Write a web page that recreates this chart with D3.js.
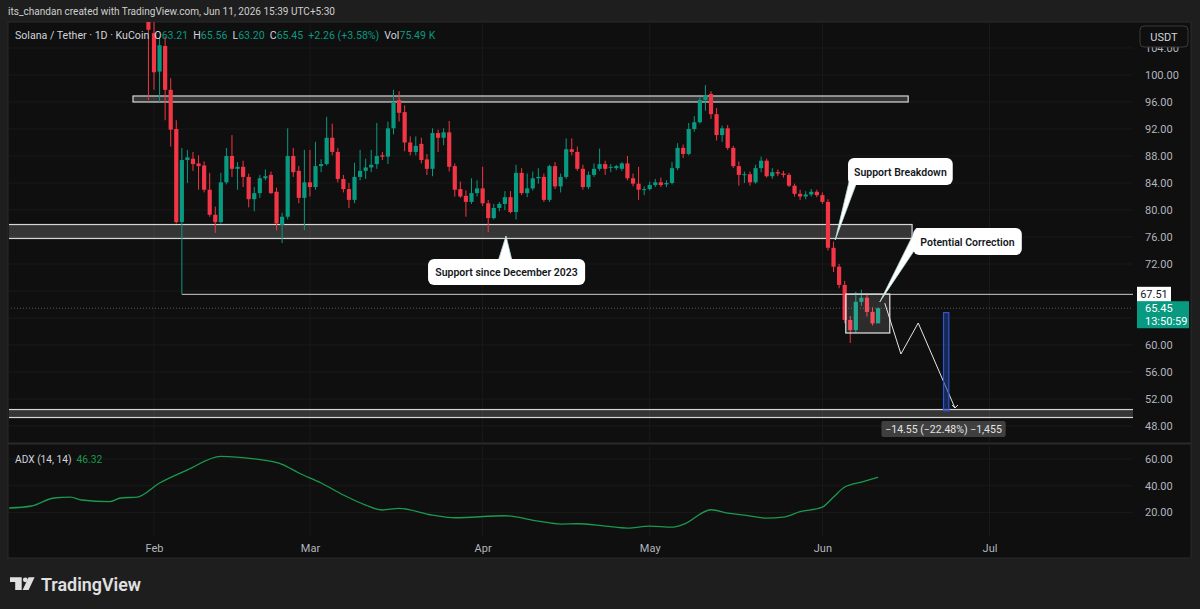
<!DOCTYPE html>
<html>
<head>
<meta charset="utf-8">
<script src="https://cdn.jsdelivr.net/npm/d3@7"></script>
<style>
  html, body { margin: 0; padding: 0; background: #1e1e1e; overflow: hidden; }
  svg { display: block; }
  text { font-family: Roboto, "Noto Sans", sans-serif; }
</style>
</head>
<body>
<div id="chart"></div>
<script>
// ---------------- data ----------------
// daily SOL/USDT candles, one per day starting at firstCandle
var firstCandle = "2026-01-31";

var opens = [
  112, // Jan 31
  106.2, 100.5, 104.3, 97.8, 92.0, 78.2, 87.4, 87.6, 86.9, 86.6, 83.0, 79.3, 78.2, 84.1, 88.0, 86.1, 86.4, 84.9, 81.6, 82.5, 84.7, 85.2, 82.7, 77.8, 79.0, 88.0, 85.8, 81.8,
  84.1, 83.4, 86.5, 86.8, 90.7, 88.6, 84.6, 83.1, 81.5, 84.9, 85.8, 86.3, 86.8, 88.1, 87.9, 92.1, 96.3, 94.5, 90.0, 88.6, 89.8, 87.5, 86.1, 91.4, 90.7, 91.5, 86.5, 83.1, 82.1, 81.2, 82.5,
  83.2, 81.0, 78.8, 80.3, 80.9, 81.9, 79.7, 85.5, 82.5, 83.2, 84.7, 84.9, 81.5, 86.5, 83.5, 84.9, 89.0, 88.6, 86.1, 83.4, 85.2, 86.1, 86.8, 86.3, 86.2, 86.1, 86.9, 84.7, 83.9, 83.0,
  83.1, 83.7, 84.1, 83.8, 84.0, 86.2, 89.2, 88.3, 92.0, 93.0, 96.3, 97.2, 94.2, 91.1, 92.1, 89.2, 86.5, 85.2, 85.3, 84.1, 86.2, 87.3, 85.0, 85.6, 85.4, 85.2, 83.6, 82.4, 82.0, 82.3, 82.7,
  82.2, 81.2, 74.4, 71.6, 68.9, 63.7, 62.2, 66.4, 67.0, 64.9, 63.21
];
var highs = [
  116,
  108.5, 105.7, 105.7, 99.5, 93.3, 89.2, 88.9, 88.6, 88.1, 87.2, 85.5, 80.5, 85.5, 89.2, 91.1, 87.1, 87.3, 85.4, 83.4, 85.2, 86.0, 85.7, 83.3, 79.6, 92.1, 89.2, 86.5, 88.9,
  88.9, 90.1, 87.5, 93.8, 92.8, 89.2, 85.2, 84.0, 87.0, 88.9, 87.6, 88.9, 92.9, 88.6, 93.1, 97.8, 97.6, 95.5, 90.9, 90.9, 90.7, 88.3, 92.1, 91.9, 92.1, 93.2, 86.9, 84.2, 82.9, 84.7, 84.4,
  86.4, 81.5, 80.9, 81.2, 82.8, 82.8, 86.7, 86.2, 85.4, 85.7, 86.2, 85.4, 86.7, 87.1, 85.4, 90.6, 90.6, 89.4, 86.7, 85.7, 86.9, 89.1, 87.3, 86.8, 86.7, 87.1, 88.0, 85.4, 86.4, 83.5,
  84.2, 84.6, 84.8, 84.4, 87.1, 89.9, 89.7, 92.9, 93.9, 96.8, 98.5, 97.6, 95.1, 92.5, 92.6, 89.5, 87.2, 85.7, 85.7, 86.7, 87.9, 87.6, 86.2, 86.0, 85.8, 85.5, 83.9, 83.0, 82.8, 83.1, 83.0,
  82.6, 81.6, 75.3, 72.0, 69.5, 64.3, 67.9, 68.2, 67.6, 65.6, 65.56
];
var lows = [
  96.3,
  97.8, 96.0, 93.3, 89.4, 78.0, 67.51, 84.0, 85.8, 83.0, 82.6, 79.0, 76.6, 78.0, 83.8, 84.9, 83.0, 83.4, 80.4, 79.8, 81.8, 84.4, 82.4, 77.0, 75.1, 78.6, 84.9, 81.0, 77.0,
  82.0, 83.0, 85.6, 86.6, 88.1, 84.1, 82.6, 80.3, 81.0, 84.4, 84.6, 85.6, 86.1, 87.4, 86.8, 91.2, 93.1, 88.7, 88.1, 88.1, 86.9, 85.2, 85.0, 88.6, 89.6, 85.7, 82.0, 81.8, 79.0, 80.9, 82.0,
  80.6, 76.7, 78.6, 79.8, 80.0, 79.5, 78.6, 82.2, 81.9, 82.9, 83.9, 81.2, 81.2, 83.1, 82.6, 84.6, 88.1, 85.8, 83.0, 83.1, 84.9, 85.8, 85.2, 85.6, 85.9, 85.8, 84.4, 83.5, 81.5, 82.2,
  82.9, 83.4, 83.4, 83.4, 83.8, 85.9, 87.7, 88.1, 91.6, 92.8, 94.7, 93.5, 90.3, 90.1, 88.9, 86.2, 83.6, 84.0, 83.6, 83.9, 85.6, 84.8, 84.6, 85.0, 84.8, 83.4, 82.0, 81.5, 81.6, 82.0, 81.9,
  80.9, 74.0, 70.8, 68.4, 63.2, 60.3, 61.8, 65.8, 64.2, 62.9, 63.20
];
var closes = [
  106.7,
  100.4, 104.4, 97.8, 91.9, 78.2, 87.4, 87.8, 86.8, 86.5, 83.0, 79.3, 78.2, 84.1, 88.0, 86.1, 86.4, 84.9, 81.6, 82.5, 84.7, 85.0, 82.5, 78.0, 79.0, 88.0, 85.6, 81.8, 84.1,
  83.4, 86.5, 86.8, 90.7, 88.6, 84.6, 83.1, 81.5, 84.9, 85.8, 86.3, 86.7, 88.0, 87.9, 92.1, 96.0, 94.4, 90.0, 88.6, 89.5, 87.4, 86.1, 91.4, 90.7, 91.5, 86.4, 83.0, 82.0, 81.2, 82.5, 83.2,
  81.0, 78.8, 80.3, 80.9, 81.9, 79.7, 85.5, 82.5, 83.2, 84.7, 84.9, 81.5, 86.5, 83.5, 84.9, 89.0, 88.6, 86.1, 83.4, 85.2, 86.1, 86.8, 86.1, 86.4, 86.5, 86.9, 84.7, 83.9, 83.0, 83.1,
  83.7, 84.1, 83.7, 84.0, 86.2, 89.2, 88.3, 92.0, 93.0, 96.3, 97.0, 94.2, 91.1, 92.1, 89.2, 86.5, 85.2, 85.3, 84.1, 86.2, 87.3, 85.0, 85.6, 85.4, 85.2, 83.6, 82.4, 82.0, 82.3, 82.7, 82.2,
  81.2, 74.4, 71.6, 68.9, 63.7, 62.2, 66.4, 67.0, 64.9, 63.2, 65.45
];

// ADX (14, 14)
var adxDates = ["2026-01-06", "2026-01-10", "2026-01-14", "2026-01-17", "2026-01-19", "2026-01-24", "2026-01-26", "2026-01-29",
  "2026-02-02", "2026-02-07", "2026-02-13", "2026-02-19", "2026-02-24", "2026-02-27", "2026-03-03", "2026-03-07", "2026-03-11",
  "2026-03-14", "2026-03-17", "2026-03-23", "2026-03-27", "2026-04-05", "2026-04-11", "2026-04-15", "2026-04-18", "2026-04-23",
  "2026-04-27", "2026-05-01", "2026-05-05", "2026-05-07", "2026-05-12", "2026-05-15", "2026-05-18", "2026-05-22", "2026-05-25",
  "2026-05-28", "2026-06-01", "2026-06-03", "2026-06-05", "2026-06-08", "2026-06-11"];
var adxValues = [23.3, 24.8, 30.8, 31.5, 29.3, 28, 30.8, 31.5, 42, 51.8, 62, 60, 56, 49.5, 42, 33, 25.5, 21.8, 23, 18, 16,
  17.5, 13.5, 11.3, 11.5, 9.8, 8.3, 9.8, 9, 11, 22, 19.5, 18, 15.7, 16.5, 20.5, 24, 31.5, 39, 42.7, 46.32];

var priceTicks = [48, 52, 56, 60, 64, 68, 72, 76, 80, 84, 88, 92, 96, 100, 104];
// 64 and 68 sit under the price labels, so they carry no text
var priceTickLabels = [48, 52, 56, 60, 72, 76, 80, 84, 88, 92, 96, 100, 104];
var adxTicks = [20, 40, 60];
var monthTicks = ["2026-02-01", "2026-03-01", "2026-04-01", "2026-05-01", "2026-06-01", "2026-07-01"];

// horizontal zones drawn on the chart (price top, price bottom)
var resistanceZone = [96.89, 96.0];
var supportZone = [77.85, 75.78];
var targetZone = [50.44, 49.26];
var breakLevel = 67.51;
var lastPrice = 65.45;

// ---------------- layout ----------------
var svgWidth = 1200;
var svgHeight = 609;

var frame = { left: 8, right: 1191, top: 22, bottom: 558 };
var plotRight = 1133;
var pricePane = { top: 22, bottom: 441 };
var adxPane = { top: 446, bottom: 537 };

var upColor = "#089981";
var downColor = "#f23645";
var textColor = "#d1d4dc";
var axisTextColor = "#b2b5be";
var gridColor = "#1a1a1a";

var svg = d3.select("#chart").append("svg")
  .attr("width", svgWidth)
  .attr("height", svgHeight);

svg.append("rect").attr("width", svgWidth).attr("height", svgHeight).attr("fill", "#1e1e1e");

// chart frame
svg.append("rect")
  .attr("x", frame.left).attr("y", frame.top)
  .attr("width", frame.right - frame.left).attr("height", frame.bottom - frame.top)
  .attr("fill", "#0f0f0f")
  .attr("stroke", "#2a2a2a");

// ---------------- scales ----------------
var parseDay = d3.utcParse("%Y-%m-%d");
var x = d3.scaleUtc()
  .domain([parseDay("2026-02-01"), parseDay("2026-07-01")])
  .range([154, 989.5]);

var y = d3.scaleLinear()
  .domain([45.78, 107.85])
  .range([pricePane.bottom, pricePane.top]);

var yAdx = d3.scaleLinear()
  .domain([1.6, 69.7])
  .range([adxPane.bottom, adxPane.top]);

// day offset from Feb 1 -> x (used for the drawings)
function dayX(d) {
  return x(new Date(parseDay("2026-02-01").getTime() + d * 864e5));
}

var candles = opens.map(function (o, i) {
  return {
    date: d3.utcDay.offset(parseDay(firstCandle), i),
    open: o, high: highs[i], low: lows[i], close: closes[i]
  };
});

// clip paths
var defs = svg.append("defs");
defs.append("clipPath").attr("id", "clipPrice").append("rect")
  .attr("x", frame.left + 1).attr("y", pricePane.top)
  .attr("width", plotRight - frame.left - 1).attr("height", pricePane.bottom - pricePane.top);
defs.append("clipPath").attr("id", "clipAdx").append("rect")
  .attr("x", frame.left + 1).attr("y", adxPane.top)
  .attr("width", plotRight - frame.left - 1).attr("height", adxPane.bottom - adxPane.top);

// ---------------- grid ----------------
var grid = svg.append("g");
grid.selectAll(".hgrid")
  .data(priceTicks)
  .enter().append("line")
  .attr("x1", frame.left + 1).attr("x2", plotRight)
  .attr("y1", d => y(d)).attr("y2", d => y(d))
  .attr("stroke", gridColor);
grid.selectAll(".agrid")
  .data(adxTicks)
  .enter().append("line")
  .attr("x1", frame.left + 1).attr("x2", plotRight)
  .attr("y1", d => yAdx(d)).attr("y2", d => yAdx(d))
  .attr("stroke", gridColor);
monthTicks.forEach(function (m) {
  var mx = x(parseDay(m));
  grid.append("line").attr("x1", mx).attr("x2", mx)
    .attr("y1", pricePane.top).attr("y2", pricePane.bottom).attr("stroke", gridColor);
  grid.append("line").attr("x1", mx).attr("x2", mx)
    .attr("y1", adxPane.top).attr("y2", adxPane.bottom).attr("stroke", gridColor);
});

// pane separator
svg.append("line")
  .attr("x1", frame.left).attr("x2", frame.right)
  .attr("y1", 443.5).attr("y2", 443.5)
  .attr("stroke", "#2a2a2a").attr("stroke-width", 2);

// ---------------- price pane ----------------
var priceGroup = svg.append("g").attr("clip-path", "url(#clipPrice)");

// zones
function zone(top, bottom, x0, x1) {
  priceGroup.append("rect")
    .attr("x", x0).attr("y", y(top))
    .attr("width", x1 - x0).attr("height", y(bottom) - y(top))
    .attr("fill", "rgba(255,255,255,0.16)")
    .attr("stroke", "#d6d6d6").attr("stroke-width", 1.2);
}
zone(resistanceZone[0], resistanceZone[1], dayX(-3.77), dayX(135.4));
zone(supportZone[0], supportZone[1], 0, dayX(136.1));
zone(targetZone[0], targetZone[1], 0, plotRight + 2);

// last price dotted line
priceGroup.append("line")
  .attr("x1", frame.left).attr("x2", plotRight)
  .attr("y1", y(lastPrice)).attr("y2", y(lastPrice))
  .attr("stroke", "#4c5a57").attr("stroke-dasharray", "1,2");

// breakdown level line
priceGroup.append("line")
  .attr("x1", x(parseDay("2026-02-06"))).attr("x2", plotRight)
  .attr("y1", y(breakLevel)).attr("y2", y(breakLevel))
  .attr("stroke", "#cfcfcf");

// candles
var bodyWidth = 4.2;
var candleGroup = priceGroup.selectAll(".candle")
  .data(candles)
  .enter().append("g");

candleGroup.append("line")
  .attr("x1", d => x(d.date)).attr("x2", d => x(d.date))
  .attr("y1", d => y(d.high)).attr("y2", d => y(d.low))
  .attr("stroke", d => d.close >= d.open ? upColor : downColor)
  .attr("stroke-width", 1);

candleGroup.append("rect")
  .attr("x", d => x(d.date) - bodyWidth / 2)
  .attr("width", bodyWidth)
  .attr("y", d => y(Math.max(d.open, d.close)))
  .attr("height", d => Math.max(1, Math.abs(y(d.open) - y(d.close))))
  .attr("fill", d => d.close >= d.open ? upColor : downColor);

// consolidation box round the last candles
priceGroup.append("rect")
  .attr("x", dayX(124.2)).attr("y", y(67.55))
  .attr("width", dayX(132.1) - dayX(124.2)).attr("height", y(61.78) - y(67.55))
  .attr("fill", "rgba(255,255,255,0.12)")
  .attr("stroke", "#e6e6e6").attr("stroke-width", 1.2);

// projected path
var projection = [[131.2, 66.2], [134.1, 58.67], [137.2, 63.26], [143.8, 50.67]];
priceGroup.append("path")
  .attr("d", d3.line().x(d => dayX(d[0])).y(d => y(d[1]))(projection))
  .attr("fill", "none").attr("stroke", "#e6e6e6").attr("stroke-width", 1);
priceGroup.append("path")
  .attr("d", "M" + (dayX(143.8) - 3) + "," + (y(50.67) - 3) + "L" + dayX(143.8) + "," + y(50.67) + "L" + (dayX(143.8) + 3) + "," + (y(50.67) - 3))
  .attr("fill", "none").attr("stroke", "#e6e6e6");

// price range measure
priceGroup.append("rect")
  .attr("x", dayX(141.75)).attr("y", y(64.8))
  .attr("width", dayX(142.7) - dayX(141.75)).attr("height", y(50.25) - y(64.8))
  .attr("fill", "rgba(30,60,150,0.55)")
  .attr("stroke", "#2f57c8").attr("stroke-width", 1.2);

// callouts
function callout(text, box, tail) {
  var g = svg.append("g");
  var bx0 = dayX(box[0]), bx1 = dayX(box[1]);
  var by0 = y(box[2]), by1 = y(box[3]);
  g.append("path")
    .attr("d", "M" + dayX(tail[0]) + "," + by0 + "L" + dayX(tail[2]) + "," + y(tail[3]) + "L" + dayX(tail[1]) + "," + by0 + "Z")
    .attr("fill", "#ffffff");
  g.append("path")
    .attr("d", "M" + dayX(tail[0]) + "," + by0 + "L" + dayX(tail[2]) + "," + y(tail[3]) + "L" + dayX(tail[1]) + "," + by0)
    .attr("fill", "none").attr("stroke", "#b8e0da").attr("stroke-width", 0.8);
  g.append("rect")
    .attr("x", bx0).attr("y", by0)
    .attr("width", bx1 - bx0).attr("height", by1 - by0)
    .attr("rx", 6)
    .attr("fill", "#ffffff");
  g.append("text")
    .attr("x", (bx0 + bx1) / 2).attr("y", (by0 + by1) / 2 + 4)
    .attr("text-anchor", "middle")
    .attr("font-size", 10.5).attr("font-weight", 600)
    .attr("fill", "#131722")
    .text(text);
}
// box: [day0, day1, priceTop, priceBottom]; tail: [baseDay0, baseDay1, tipDay, tipPrice]
callout("Support since December 2023", [49.2, 77.4, 72.74, 68.89], [61.9, 64.2, 63.2, 76.15]);
callout("Support Breakdown", [124.6, 143.4, 87.7, 83.7], [125.8, 127.8, 122.3, 75.56]);
callout("Potential Correction", [136.3, 155.8, 77.33, 73.33], [136.9, 139.2, 130.3, 66.37]);

// measure label
var measure = svg.append("g");
measure.append("rect")
  .attr("x", dayX(130.6)).attr("y", y(48.74))
  .attr("width", dayX(152.9) - dayX(130.6)).attr("height", y(46.37) - y(48.74))
  .attr("rx", 2)
  .attr("fill", "rgba(80,80,80,0.75)");
measure.append("text")
  .attr("x", (dayX(130.6) + dayX(152.9)) / 2).attr("y", y(48.74) + 12)
  .attr("text-anchor", "middle")
  .attr("font-size", 10.5)
  .attr("fill", "#e3e3e3")
  .text("\u221214.55 (\u221222.48%) \u22121,455");

// ---------------- ADX pane ----------------
var adxLine = d3.line()
  .x((d, i) => x(parseDay(adxDates[i])))
  .y(d => yAdx(d))
  .curve(d3.curveMonotoneX);

svg.append("g").attr("clip-path", "url(#clipAdx)")
  .append("path")
  .attr("d", adxLine(adxValues))
  .attr("fill", "none")
  .attr("stroke", "#1a9a4e")
  .attr("stroke-width", 1.3);

// ---------------- axes ----------------
var priceAxis = svg.append("g")
  .attr("transform", `translate(${plotRight}, 0)`)
  .call(d3.axisRight(y).tickValues(priceTickLabels).tickSize(0).tickPadding(12).tickFormat(d3.format(".2f")));
priceAxis.select(".domain").remove();
priceAxis.selectAll("text").attr("fill", axisTextColor).attr("font-size", 11)
  .attr("font-family", "Roboto, sans-serif");

var adxAxis = svg.append("g")
  .attr("transform", `translate(${plotRight}, 0)`)
  .call(d3.axisRight(yAdx).tickValues(adxTicks).tickSize(0).tickPadding(12).tickFormat(d3.format(".2f")));
adxAxis.select(".domain").remove();
adxAxis.selectAll("text").attr("fill", axisTextColor).attr("font-size", 11)
  .attr("font-family", "Roboto, sans-serif");

var timeAxis = svg.append("g")
  .attr("transform", `translate(0, ${adxPane.bottom})`)
  .call(d3.axisBottom(x).tickValues(monthTicks.map(parseDay)).tickSize(0).tickPadding(7).tickFormat(d3.utcFormat("%b")));
timeAxis.select(".domain").remove();
timeAxis.selectAll("text").attr("fill", axisTextColor).attr("font-size", 11)
  .attr("font-family", "Roboto, sans-serif");

// currency box
svg.append("rect")
  .attr("x", 1140).attr("y", 26).attr("width", 48).attr("height", 21).attr("rx", 4)
  .attr("fill", "#0f0f0f").attr("stroke", "#3a3a3a");
svg.append("text")
  .attr("x", 1164).attr("y", 40.5).attr("text-anchor", "middle")
  .attr("font-size", 11).attr("fill", textColor).text("USDT");

// price labels on the axis
svg.append("rect")
  .attr("x", 1137).attr("y", y(breakLevel) - 7.5).attr("width", 34).attr("height", 15)
  .attr("fill", "#ffffff");
svg.append("text")
  .attr("x", 1154).attr("y", y(breakLevel) + 4).attr("text-anchor", "middle")
  .attr("font-size", 11).attr("fill", "#131722").text(breakLevel.toFixed(2));

svg.append("rect")
  .attr("x", 1137).attr("y", y(lastPrice) - 7).attr("width", 52).attr("height", 27)
  .attr("fill", upColor);
svg.append("text")
  .attr("x", 1145).attr("y", y(lastPrice) + 4)
  .attr("font-size", 11).attr("fill", "#ffffff").text(lastPrice.toFixed(2));
svg.append("text")
  .attr("x", 1145).attr("y", y(lastPrice) + 16.5)
  .attr("font-size", 11).attr("fill", "#ffffff").text("13:50:59");

// ---------------- texts ----------------
svg.append("text")
  .attr("x", 8).attr("y", 15)
  .attr("font-size", 11.5).attr("fill", "#cfcfcf")
  .attr("textLength", 327).attr("lengthAdjust", "spacingAndGlyphs")
  .text("its_chandan created with TradingView.com, Jun 11, 2026 15:39 UTC+5:30");

var legend = svg.append("text")
  .attr("x", 15).attr("y", 39)
  .attr("font-size", 10.6).attr("fill", textColor);
legend.append("tspan").text("Solana / Tether \u00b7 1D \u00b7 KuCoin");
var ohlc = [["O", "63.21"], ["H", "65.56"], ["L", "63.20"], ["C", "65.45"]];
ohlc.forEach(function (p) {
  legend.append("tspan").attr("dx", 5).attr("fill", textColor).text(p[0]);
  legend.append("tspan").attr("fill", upColor).text(p[1]);
});
legend.append("tspan").attr("dx", 5).attr("fill", upColor).text("+2.26 (+3.58%)");
legend.append("tspan").attr("dx", 5).attr("fill", textColor).text("Vol");
legend.append("tspan").attr("fill", upColor).text("75.49\u00a0K");

var adxLegend = svg.append("text")
  .attr("x", 15).attr("y", 463)
  .attr("font-size", 10.2).attr("fill", textColor);
adxLegend.append("tspan").text("ADX (14, 14)");
adxLegend.append("tspan").attr("dx", 5).attr("fill", "#1a9a4e").text("46.32");

// ---------------- logo ----------------
var logo = svg.append("g").attr("fill", "#e0e0e0");
logo.append("path").attr("d", "M10,577.3 H21.7 V590 H15.2 V582 H10 Z");
logo.append("circle").attr("cx", 25.3).attr("cy", 579.8).attr("r", 2.4);
logo.append("path").attr("d", "M28.6,577.3 H34.6 L28.6,590 H22.6 Z");
logo.append("text")
  .attr("x", 41).attr("y", 590.5)
  .attr("font-size", 19).attr("font-weight", 600)
  .attr("fill", "#e0e0e0")
  .attr("textLength", 100).attr("lengthAdjust", "spacingAndGlyphs")
  .text("TradingView");
</script>
</body>
</html>
